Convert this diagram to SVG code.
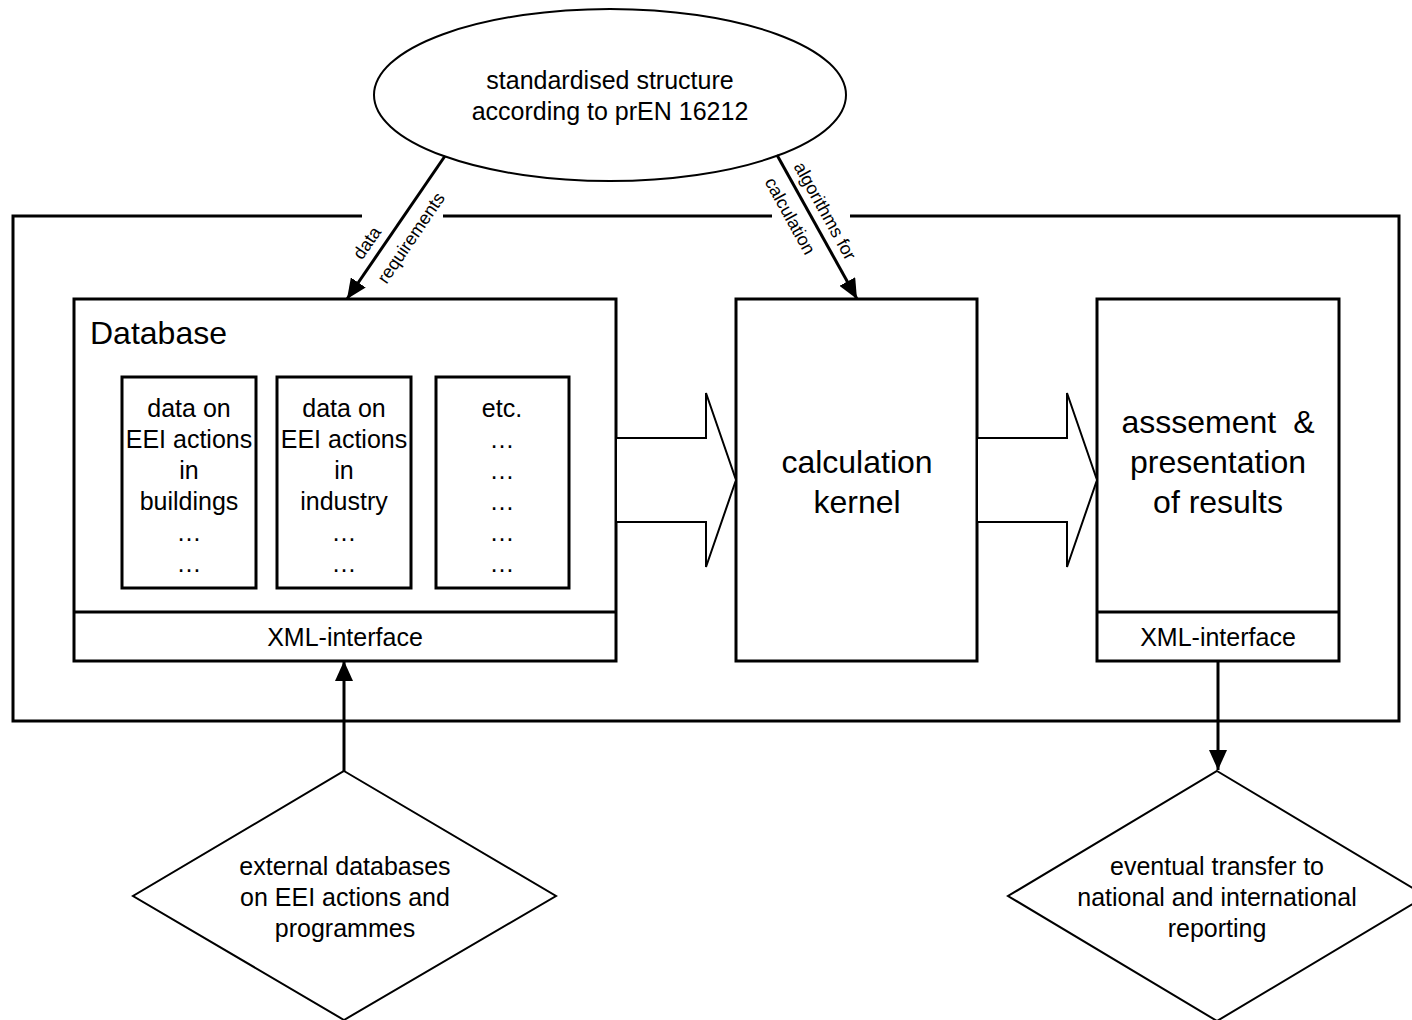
<svg xmlns="http://www.w3.org/2000/svg" width="1412" height="1020" viewBox="0 0 1412 1020">
  <style>
    .box { fill: #fff; stroke: #000; stroke-width: 3; }
    .thin { fill: #fff; stroke: #000; stroke-width: 2; }
    .line { fill: none; stroke: #000; stroke-width: 3; }
    .conn { fill: none; stroke: #000; stroke-width: 3; }
    .t { font-family: "Liberation Sans", Arial, sans-serif; fill: #000; text-anchor: middle; }
    .s25 { font-size: 25px; }
    .s32 { font-size: 32px; }
    .lbl { font-size: 18px; }
  </style>
  <defs>
    <marker id="head" viewBox="0 0 20 18" refX="20" refY="9" markerWidth="20" markerHeight="18" orient="auto" markerUnits="userSpaceOnUse">
      <path d="M0,0 L20,9 L0,18 z" fill="#000"/>
    </marker>
  </defs>
  <rect width="1412" height="1020" fill="#fff"/>

  <!-- outer system frame (top edge broken where the labels cross it) -->
  <g id="frame">
    <path class="line" d="M362,216 H13 V721 H1399 V216 H850 M772,216 H443"/>
  </g>

  <!-- standard (ellipse) -->
  <g id="standard">
    <ellipse class="thin" cx="610" cy="95" rx="236" ry="86"/>
    <text class="t s25" x="610" y="89">standardised structure</text>
    <text class="t s25" x="610" y="120">according to prEN 16212</text>
  </g>

  <!-- database -->
  <g id="database">
    <rect class="box" x="74" y="299" width="542" height="362"/>
    <line class="line" x1="74" y1="612" x2="616" y2="612"/>
    <text class="t s32" x="90" y="344" style="text-anchor:start">Database</text>
    <text class="t s25" x="345" y="646">XML-interface</text>
  </g>

  <g id="buildings">
    <rect class="box" x="122" y="377" width="134" height="211"/>
    <text class="t s25" x="189" y="417">data on</text>
    <text class="t s25" x="189" y="448">EEI actions</text>
    <text class="t s25" x="189" y="479">in</text>
    <text class="t s25" x="189" y="510">buildings</text>
    <text class="t s25" x="189" y="541">…</text>
    <text class="t s25" x="189" y="572">…</text>
  </g>

  <g id="industry">
    <rect class="box" x="277" y="377" width="134" height="211"/>
    <text class="t s25" x="344" y="417">data on</text>
    <text class="t s25" x="344" y="448">EEI actions</text>
    <text class="t s25" x="344" y="479">in</text>
    <text class="t s25" x="344" y="510">industry</text>
    <text class="t s25" x="344" y="541">…</text>
    <text class="t s25" x="344" y="572">…</text>
  </g>

  <g id="etc">
    <rect class="box" x="436" y="377" width="133" height="211"/>
    <text class="t s25" x="502" y="417">etc.</text>
    <text class="t s25" x="502" y="448">…</text>
    <text class="t s25" x="502" y="479">…</text>
    <text class="t s25" x="502" y="510">…</text>
    <text class="t s25" x="502" y="541">…</text>
    <text class="t s25" x="502" y="572">…</text>
  </g>

  <!-- calculation kernel -->
  <g id="kernel">
    <rect class="box" x="736" y="299" width="241" height="362"/>
    <text class="t s32" x="857" y="473">calculation</text>
    <text class="t s32" x="857" y="513">kernel</text>
  </g>

  <!-- assessment -->
  <g id="assessment">
    <rect class="box" x="1097" y="299" width="242" height="362"/>
    <line class="line" x1="1097" y1="612" x2="1339" y2="612"/>
    <text class="t s32" x="1218" y="433">asssement <tspan dx="8">&amp;</tspan></text>
    <text class="t s32" x="1218" y="473">presentation</text>
    <text class="t s32" x="1218" y="513">of results</text>
    <text class="t s25" x="1218" y="646">XML-interface</text>
  </g>

  <!-- external sources -->
  <g id="external">
    <polygon class="thin" points="344,771 556,896 344,1020 133,896"/>
    <text class="t s25" x="345" y="875">external databases</text>
    <text class="t s25" x="345" y="906">on EEI actions and</text>
    <text class="t s25" x="345" y="937">programmes</text>
  </g>

  <!-- reporting -->
  <g id="reporting">
    <polygon class="thin" points="1217,771 1426,896 1217,1021 1008,896"/>
    <text class="t s25" x="1217" y="875">eventual transfer to</text>
    <text class="t s25" x="1217" y="906">national and international</text>
    <text class="t s25" x="1217" y="937">reporting</text>
  </g>

  <!-- connectors -->
  <g id="connectors">
    <!-- block arrows between components -->
    <polygon class="thin" points="616,438 706,438 706,393 736,480 706,567 706,522 616,522"/>
    <polygon class="thin" points="977,438 1067,438 1067,393 1097,480 1067,567 1067,522 977,522"/>

    <line class="conn" x1="445" y1="156" x2="347" y2="299" marker-end="url(#head)"/>
    <line class="conn" x1="777" y1="155" x2="857" y2="299" marker-end="url(#head)"/>
    <line class="conn" x1="344" y1="771" x2="344" y2="661" marker-end="url(#head)"/>
    <line class="conn" x1="1218" y1="661" x2="1218" y2="770" marker-end="url(#head)"/>

    <text class="t lbl" transform="translate(367,243) rotate(-55.8)" dy="6">data</text>
    <text class="t lbl" transform="translate(411,238) rotate(-55.8)" dy="6">requirements</text>
    <text class="t lbl" transform="translate(825,211) rotate(61)" dy="6">algorithms  for</text>
    <text class="t lbl" transform="translate(790,216) rotate(61)" dy="6">calculation</text>
  </g>
</svg>
